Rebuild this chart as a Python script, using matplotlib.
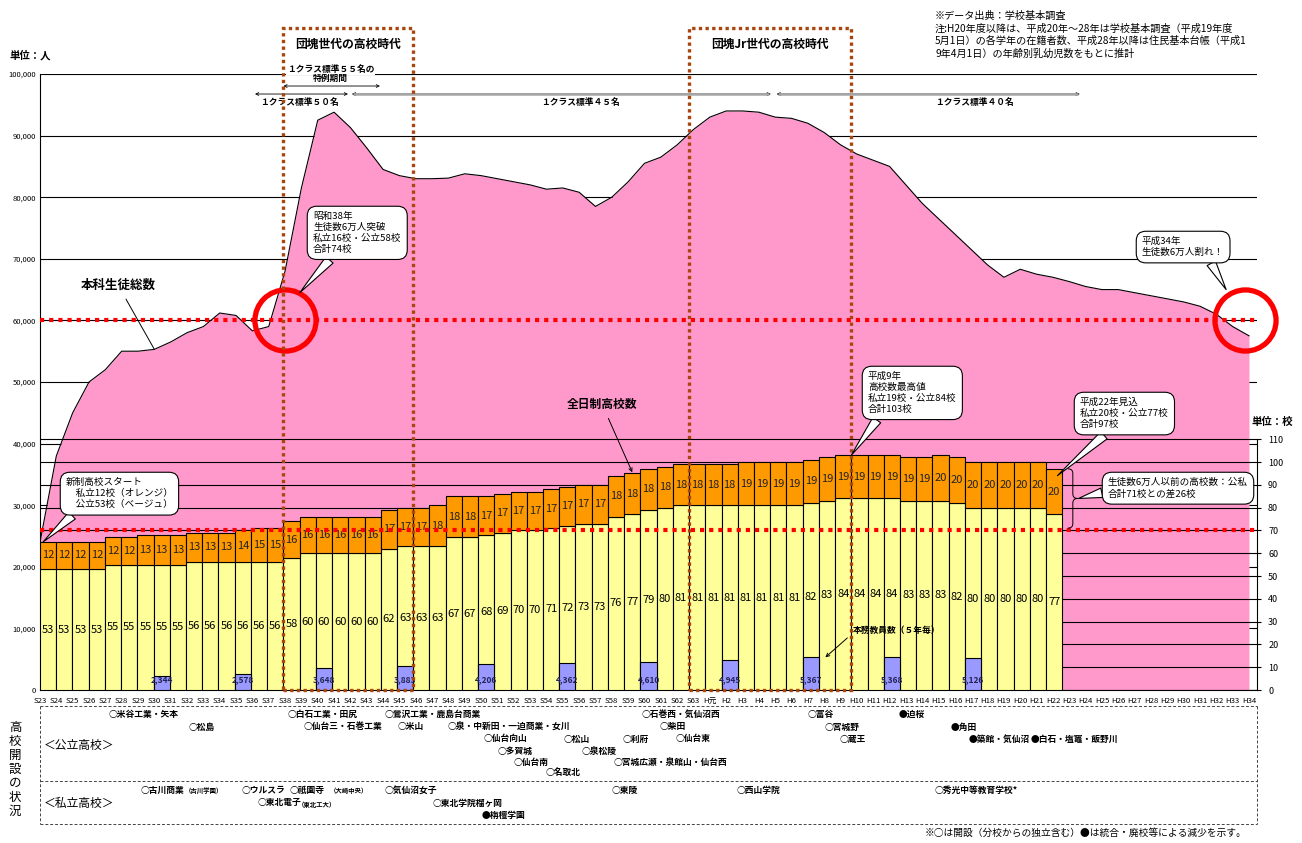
import matplotlib
matplotlib.use('Agg')
import matplotlib.pyplot as plt
import matplotlib.transforms as mtransforms
from matplotlib.patches import Rectangle, PathPatch
from matplotlib.path import Path
from matplotlib.lines import Line2D

plt.rcParams['font.family'] = ['Noto Sans CJK JP', 'DejaVu Sans']

# ---------------- data ----------------
years = [f'S{n}' for n in range(23, 64)] + ['H元'] + [f'H{n}' for n in range(2, 35)]

students = [24000, 38000, 45000, 50000, 52000, 55000, 55000, 55300, 56500, 58000,
            59000, 61200, 60800, 58300, 59000, 68000, 81500, 92500, 93800, 91300,
            88000, 84500, 83500, 83000, 83000, 83100, 83800, 83500, 83000, 82500,
            82000, 81300, 81500, 80800, 78500, 80000, 82500, 85500, 86500, 88500,
            91000,
            93000, 94000, 94000, 93800, 93000, 92800, 92000, 90500, 88500, 87000,
            86000, 85000, 82000, 79000, 76500, 74000, 71500, 69000, 67000, 68300,
            67500, 67000, 66300, 65500, 65000, 65000, 64500, 64000, 63500, 63000,
            62300, 61000, 59000, 57500]

public_schools = [53, 53, 53, 53, 55, 55, 55, 55, 55, 56, 56, 56, 56, 56, 56,
                  58, 60, 60, 60, 60, 60, 62, 63, 63, 63, 67, 67, 68, 69, 70,
                  70, 71, 72, 73, 73, 76, 77, 79, 80, 81, 81,
                  81, 81, 81, 81, 81, 81, 82, 83, 84, 84, 84, 84, 83, 83, 83,
                  82, 80, 80, 80, 80, 80, 77]
private_schools = [12, 12, 12, 12, 12, 12, 13, 13, 13, 13, 13, 13, 14, 15, 15,
                   16, 16, 16, 16, 16, 16, 17, 17, 17, 18, 18, 18, 17, 17, 17,
                   17, 17, 17, 17, 17, 18, 18, 18, 18, 18, 18,
                   18, 18, 19, 19, 19, 19, 19, 19, 19, 19, 19, 19, 19, 19, 20,
                   20, 20, 20, 20, 20, 20, 20]

teacher_years = ['S30', 'S35', 'S40', 'S45', 'S50', 'S55', 'S60', 'H2', 'H7', 'H12', 'H17']
teachers = [2344, 2578, 3648, 3883, 4206, 4362, 4610, 4945, 5367, 5368, 5126]

left_ticks = list(range(0, 100001, 10000))
right_ticks = list(range(0, 111, 10))

public_list = [
    ('○米谷工業・矢本', 109, 714), ('○松島', 189, 727),
    ('○白石工業・田尻', 288, 714), ('○仙台三・石巻工業', 304, 727),
    ('○鶯沢工業・鹿島台商業', 385, 714), ('○米山', 398, 727),
    ('○泉・中新田・一迫商業・女川', 448, 727), ('○仙台向山', 484, 739),
    ('○多賀城', 498, 751), ('○仙台南', 514, 763), ('○名取北', 546, 773),
    ('○松山', 564, 739), ('○泉松陵', 582, 751), ('○利府', 623, 739),
    ('○宮城広瀬・泉館山・仙台西', 614, 763), ('○石巻西・気仙沼西', 642, 714),
    ('○柴田', 660, 727), ('○仙台東', 676, 739), ('○富谷', 808, 714),
    ('○宮城野', 825, 727), ('○蔵王', 840, 739), ('●迫桜', 899, 714),
    ('●角田', 951, 727), ('●築館・気仙沼', 969, 739),
    ('●白石・塩竈・飯野川', 1031, 739),
]
private_list = [
    ('○古川商業', 141, 790), ('○ウルスラ', 242, 790), ('○祇園寺', 290, 790),
    ('○気仙沼女子', 385, 790), ('○東北電子', 258, 803), ('○東北学院榴ヶ岡', 433, 803),
    ('●栴檀学園', 482, 815), ('○東陵', 612, 790), ('○西山学院', 737, 790),
    ('○秀光中等教育学校*', 935, 790),
]
private_small = [('（古川学園）', 185, 791), ('（大崎中央）', 330, 791), ('（東北工大）', 298, 804)]

# ---------------- layout ----------------
W, H = 1302, 843
fig = plt.figure(figsize=(W / 100, H / 100), dpi=100)
L, R, T, B = 40, 1257, 74, 690
rect = [L / W, 1 - B / H, (R - L) / W, (B - T) / H]


def fx(x):
    return x / W


def fy(y):
    return 1 - y / H


n = len(years)
PINK, ORANGE, BEIGE, BLUE = '#FF99CC', '#FF9900', '#FFFF99', '#9999FF'
BROWN = '#A8460E'

# --- area axes (people, left axis) ---
ax = fig.add_axes(rect)
ax.set_xlim(0, (n - 1) * (R - L) / (1249 - L))
ax.set_ylim(0, 100000)
ax.set_axisbelow(True)
ax.yaxis.grid(True, color='black', lw=0.8)
ax.set_yticks(left_ticks)
ax.set_yticklabels([f'{v:,}' for v in left_ticks], fontsize=5.5)
ax.tick_params(axis='y', length=0, pad=3)
ax.set_xticks(range(n))
ax.set_xticklabels(years, fontsize=5.6)
ax.tick_params(axis='x', length=0, pad=5)
for s in ['top', 'right']:
    ax.spines[s].set_visible(False)
ax.spines['left'].set_linewidth(0.8)
ax.spines['bottom'].set_linewidth(0.8)
ax.fill_between(range(n), students, 0, color=PINK, lw=0, zorder=1)
ax.plot(range(n), students, color='black', lw=0.8, zorder=2)
ax.axhline(60000, color='#FF0000', lw=3.0, ls=(0, (1, 1.2)), zorder=4)
ax.plot([years.index('S38')], [60000], marker='o', ms=44, mfc='none', mec='#FF0000',
        mew=3.8, clip_on=False, zorder=6)
ax.plot([73.75], [60000], marker='o', ms=44, mfc='none', mec='#FF0000',
        mew=3.8, clip_on=False, zorder=6)

# --- bar axes (schools, right axis) ---
axb = fig.add_axes(rect)
axb.patch.set_visible(False)
axb.set_xlim(-0.5, n - 0.5)
axb.set_ylim(0, (B - T) / 2.28)
axb.set_axisbelow(True)
axb.yaxis.tick_right()
axb.set_yticks(right_ticks)
axb.set_yticklabels([str(v) for v in right_ticks], fontsize=6.5)
axb.tick_params(axis='y', length=3, pad=5, width=0.8)
axb.yaxis.grid(True, color='black', lw=0.8)
axb.set_xticks([])
for s in ['top', 'left', 'bottom']:
    axb.spines[s].set_visible(False)
axb.spines['right'].set_bounds(0, 110)
axb.spines['right'].set_linewidth(0.8)

nb = len(public_schools)
xb = list(range(nb))
axb.bar(xb, public_schools, width=1.0, color=BEIGE, edgecolor='black', lw=0.8, zorder=2)
axb.bar(xb, private_schools, bottom=public_schools, width=1.0, color=ORANGE,
        edgecolor='black', lw=0.8, zorder=2)
for i in xb:
    p, q = public_schools[i], private_schools[i]
    axb.text(i, p / 2, str(p), ha='center', va='center', fontsize=8, zorder=3)
    axb.text(i, p + q / 2, str(q), ha='center', va='center', fontsize=8,
             color='#222222', zorder=3)
axb.axhline(70, color='#FF0000', lw=3.0, ls=(0, (1, 1.2)), zorder=5)

# brace
bx0, bx1 = 62.85, 63.45
by0, by1 = 71, 97
bm = (by0 + by1) / 2
xm = (bx0 + bx1) / 2
verts = [(bx0, by1), (xm, by1), (xm, by1 - 2), (xm, bm + 2), (xm, bm), (bx1, bm),
         (xm, bm), (xm, bm - 2), (xm, by0 + 2), (xm, by0), (bx0, by0)]
codes = [Path.MOVETO, Path.CURVE3, Path.CURVE3, Path.LINETO, Path.CURVE3, Path.CURVE3,
         Path.CURVE3, Path.CURVE3, Path.LINETO, Path.CURVE3, Path.CURVE3]
axb.add_patch(PathPatch(Path(verts, codes), fill=False, lw=0.7, ec='black',
                        clip_on=False, zorder=6))

# --- top axes (teachers, people scale) ---
axt = fig.add_axes(rect, sharex=axb)
axt.set_ylim(0, 100000)
axt.axis('off')
ti = [years.index(y) for y in teacher_years]
axt.bar(ti, teachers, width=1.0, color=BLUE, edgecolor='black', lw=0.8, zorder=2)
for i, v in zip(ti, teachers):
    axt.text(i, 1700, f'{v:,}', ha='center', va='center', fontsize=6,
             color='#222255', weight='bold', zorder=3)

blend = mtransforms.blended_transform_factory(axt.transData, axt.transAxes)
top_frac = (B - 28) / (B - T)
for x0, x1, title in [(14.5, 22.5, '団塊世代の高校時代'), (39.5, 49.5, '団塊Jr世代の高校時代')]:
    axt.add_patch(Rectangle((x0, 0), x1 - x0, top_frac, transform=blend, fill=False,
                            ec=BROWN, lw=2.4, ls=(0, (1, 1)), clip_on=False, zorder=7))
    axt.text((x0 + x1) / 2, (B - 44) / (B - T), title, transform=blend, ha='center',
             va='center', fontsize=8.5, weight='bold')

# class-size annotations
ap_black = dict(arrowstyle='<->', lw=0.6, color='black', shrinkA=0, shrinkB=0,
                mutation_scale=5)
axt.annotate('', xy=(14.5, 98050), xytext=(20.45, 98050), arrowprops=ap_black,
             annotation_clip=False)
axt.text(17.4, 100650, '１クラス標準５５名の', ha='center', va='center', fontsize=6.3,
         weight='bold', bbox=dict(fc='white', ec='none', pad=0.6))
axt.text(17.4, 99250, '特例期間', ha='center', va='center', fontsize=6.3, weight='bold')
axt.annotate('', xy=(12.75, 96750), xytext=(18.48, 96750), arrowprops=ap_black)
axt.text(15.5, 95300, '１クラス標準５０名', ha='center', va='center', fontsize=6.3,
         weight='bold')
for x0, x1, lab, xc in [(18.72, 44.54, '１クラス標準４５名', 32.8),
                         (44.9, 63.58, '１クラス標準４０名', 57.1)]:
    axt.annotate('', xy=(x0, 96750), xytext=(x1, 96750), arrowprops=ap_black)
    axt.plot([x0 + 0.1, x1 - 0.1], [96750, 96750], color='#A6A6A6', lw=1.8,
             solid_capstyle='butt', zorder=3)
    axt.text(xc, 95300, lab, ha='center', va='center', fontsize=6.3, weight='bold')

# callouts
bub = dict(boxstyle='round,pad=0.6,rounding_size=1.0', fc='white', ec='black', lw=0.8)


def callout(text, target, tcoords, pos, relpos, fs=6.9):
    axt.annotate(text, xy=target, xycoords=tcoords, xytext=(pos[0], H - pos[1]),
                 textcoords='figure pixels', ha='left', va='top', fontsize=fs,
                 linespacing=1.25, bbox=bub, annotation_clip=False, zorder=10,
                 arrowprops=dict(arrowstyle='wedge,tail_width=1.0,shrink_factor=0.5',
                                 fc='white', ec='black', lw=0.8, relpos=relpos,
                                 shrinkA=0, shrinkB=0))


callout('昭和38年\n生徒数6万人突破\n私立16校・公立58校\n合計74校', (15.9, 64500),
        ax.transData, (313, 212), (0.25, 0.0))
callout('新制高校スタート\n　私立12校（オレンジ）\n　公立53校（ベージュ）', (-0.3, 65),
        axb.transData, (66, 478), (0.12, 0.0))
callout('平成9年\n高校数最高値\n私立19校・公立84校\n合計103校', (49.5, 103),
        axb.transData, (868, 372), (0.15, 0.0))
callout('平成22年見込\n私立20校・公立77校\n合計97校', (62.2, 94),
        axb.transData, (1080, 398), (0.35, 0.0))
callout('生徒数6万人以前の高校数：公私\n合計71校との差26校', (63.5, 84),
        axb.transData, (1108, 478), (0.0, 0.35))
callout('平成34年\n生徒数6万人割れ！', (72.6, 65000),
        ax.transData, (1142, 237), (0.8, 0.0))

# series labels
axt.annotate('本科生徒総数', xy=(7, 55300), xycoords=ax.transData,
             xytext=(118, H - 285), textcoords='figure pixels', ha='center',
             va='center', fontsize=9, weight='bold',
             arrowprops=dict(arrowstyle='-', lw=0.7, color='black', shrinkA=4, shrinkB=0))
axt.annotate('全日制高校数', xy=(36.0, 95.5), xycoords=axb.transData,
             xytext=(602, H - 404), textcoords='figure pixels', ha='center',
             va='center', fontsize=8.5, weight='bold',
             arrowprops=dict(arrowstyle='->', lw=0.7, color='black', shrinkA=4,
                             shrinkB=0, mutation_scale=6))
axt.annotate('本務教員数（５年毎）', xy=(47.9, 5300), xycoords=axt.transData,
             xytext=(897, H - 630), textcoords='figure pixels', ha='center',
             va='center', fontsize=6.3, weight='bold',
             arrowprops=dict(arrowstyle='->', lw=0.7, color='black', shrinkA=3,
                             shrinkB=0, mutation_scale=6, relpos=(0.0, 0.2)))

# units and notes
fig.text(fx(10), fy(55), '単位：人', fontsize=7.5, ha='left', va='center', weight='bold')
fig.text(fx(1252), fy(422), '単位：校', fontsize=7.5, ha='left', va='center', weight='bold')
fig.text(fx(935), fy(11),
         '※データ出典：学校基本調査\n'
         '注:H20年度以降は、平成20年～28年は学校基本調査（平成19年度\n'
         '5月1日）の各学年の在籍者数、平成28年以降は住民基本台帳（平成1\n'
         '9年4月1日）の年齢別乳幼児数をもとに推計',
         fontsize=7.3, ha='left', va='top', linespacing=1.28)

# ---------------- lower table ----------------
dash = dict(color='#444444', lw=0.7, ls=(0, (3, 2)))
for (x0, y0, x1, y1) in [(40, 706, 1257, 706), (40, 781, 1257, 781), (40, 824, 1257, 824),
                         (40, 706, 40, 824), (1257, 706, 1257, 824)]:
    fig.add_artist(Line2D([fx(x0), fx(x1)], [fy(y0), fy(y1)], transform=fig.transFigure,
                          **dash))
for k, ch in enumerate('高校開設の状況'):
    fig.text(fx(15), fy(727 + 14 * k), ch, fontsize=9, ha='center', va='center')
fig.text(fx(44), fy(745), '＜公立高校＞', fontsize=8.5, ha='left', va='center')
fig.text(fx(44), fy(803), '＜私立高校＞', fontsize=8.5, ha='left', va='center')
for lab, x, y in public_list + private_list:
    fig.text(fx(x), fy(y), lab, fontsize=6.3, weight='bold', ha='left', va='center')
for lab, x, y in private_small:
    fig.text(fx(x), fy(y), lab, fontsize=4.6, weight='bold', ha='left', va='center')
fig.text(fx(925), fy(833), '※○は開設（分校からの独立含む）●は統合・廃校等による減少を示す。',
         fontsize=7, ha='left', va='center')

fig.savefig('out.png', dpi=100)
